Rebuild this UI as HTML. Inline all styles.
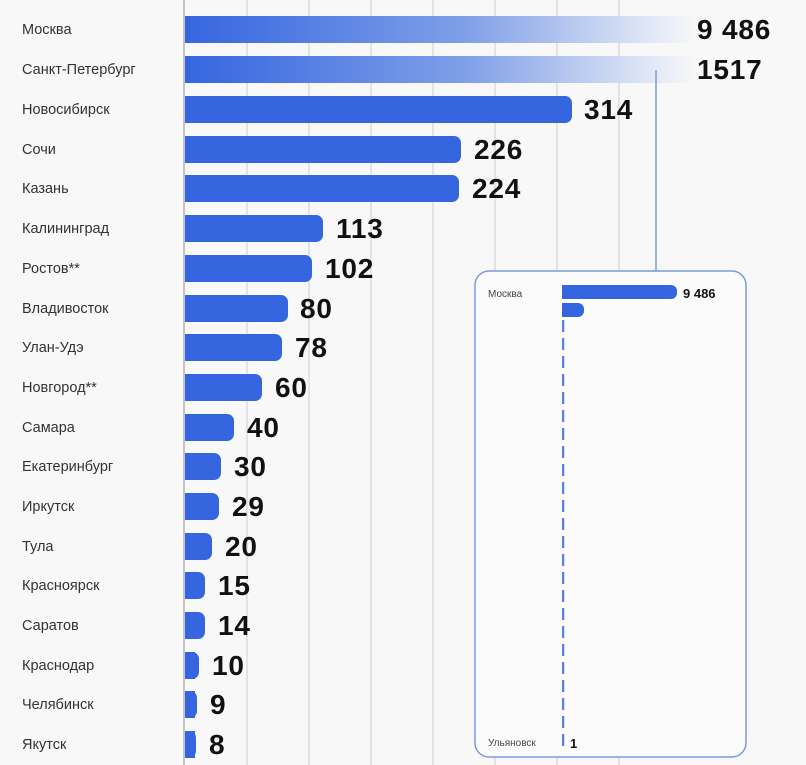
<!DOCTYPE html>
<html><head><meta charset="utf-8"><style>
html,body{margin:0;padding:0;background:#f8f8f9;}
svg{display:block;font-family:"Liberation Sans","DejaVu Sans",sans-serif;}
.l{font-size:14.5px;fill:#333;}
.v{font-size:28px;font-weight:bold;fill:#111;letter-spacing:0.8px;}
</style></head><body>
<svg width="806" height="765" viewBox="0 0 806 765">
<defs>
<linearGradient id="g" x1="0" x2="1" y1="0" y2="0">
<stop offset="0" stop-color="#3566df"/><stop offset="0.55" stop-color="#7f9fe8"/><stop offset="1" stop-color="#f8f8f9"/>
</linearGradient>
</defs>
<rect width="806" height="765" fill="#f8f8f9"/>
<g stroke="#dcdcdc" stroke-width="1.5">
<line x1="247" y1="0" x2="247" y2="765"/><line x1="309" y1="0" x2="309" y2="765"/>
<line x1="371" y1="0" x2="371" y2="765"/><line x1="433" y1="0" x2="433" y2="765"/>
<line x1="495" y1="0" x2="495" y2="765"/><line x1="557" y1="0" x2="557" y2="765"/>
<line x1="619" y1="0" x2="619" y2="765"/>
</g>
<rect x="185" y="16" width="510" height="27" fill="url(#g)"/>
<rect x="185" y="56" width="510" height="27" fill="url(#g)"/>
<line x1="656" y1="70" x2="656" y2="271" stroke="#7a9be0" stroke-width="1.5"/>
<g fill="#3566df">
<rect x="175" y="96" width="397" height="27" rx="7"/>
<rect x="175" y="136" width="286" height="27" rx="7"/>
<rect x="175" y="175" width="284" height="27" rx="7"/>
<rect x="175" y="215" width="148" height="27" rx="7"/>
<rect x="175" y="255" width="137" height="27" rx="7"/>
<rect x="175" y="295" width="113" height="27" rx="7"/>
<rect x="175" y="334" width="107" height="27" rx="7"/>
<rect x="175" y="374" width="87" height="27" rx="7"/>
<rect x="175" y="414" width="59" height="27" rx="7"/>
<rect x="175" y="453" width="46" height="27" rx="7"/>
<rect x="175" y="493" width="44" height="27" rx="7"/>
<rect x="175" y="533" width="37" height="27" rx="7"/>
<rect x="175" y="572" width="30" height="27" rx="7"/>
<rect x="175" y="612" width="30" height="27" rx="7"/>
<rect x="175" y="652" width="24" height="27" rx="7"/>
<rect x="175" y="691" width="22" height="27" rx="7"/>
<rect x="175" y="731" width="21" height="27" rx="7"/>
</g>
<rect x="170" y="90" width="14" height="675" fill="#f8f8f9"/>
<g fill="#3566df">
<rect x="185" y="96" width="10" height="27"/><rect x="185" y="136" width="10" height="27"/>
<rect x="185" y="175" width="10" height="27"/><rect x="185" y="215" width="10" height="27"/>
<rect x="185" y="255" width="10" height="27"/><rect x="185" y="295" width="10" height="27"/>
<rect x="185" y="334" width="10" height="27"/><rect x="185" y="374" width="10" height="27"/>
<rect x="185" y="414" width="10" height="27"/><rect x="185" y="453" width="10" height="27"/>
<rect x="185" y="493" width="10" height="27"/><rect x="185" y="533" width="10" height="27"/>
<rect x="185" y="572" width="10" height="27"/><rect x="185" y="612" width="10" height="27"/>
<rect x="185" y="652" width="10" height="27"/><rect x="185" y="691" width="10" height="27"/>
<rect x="185" y="731" width="10" height="27"/>
</g>
<line x1="184" y1="0" x2="184" y2="765" stroke="#c4c4c4" stroke-width="2"/>
<g class="l">
<text x="22" y="34">Москва</text><text x="22" y="74">Санкт-Петербург</text>
<text x="22" y="114">Новосибирск</text><text x="22" y="154">Сочи</text>
<text x="22" y="193">Казань</text><text x="22" y="233">Калининград</text>
<text x="22" y="273">Ростов**</text><text x="22" y="313">Владивосток</text>
<text x="22" y="352">Улан-Удэ</text><text x="22" y="392">Новгород**</text>
<text x="22" y="432">Самара</text><text x="22" y="471">Екатеринбург</text>
<text x="22" y="511">Иркутск</text><text x="22" y="551">Тула</text>
<text x="22" y="590">Красноярск</text><text x="22" y="630">Саратов</text>
<text x="22" y="670">Краснодар</text><text x="22" y="709">Челябинск</text>
<text x="22" y="749">Якутск</text>
</g>
<g class="v">
<text x="697" y="39">9 486</text><text x="697" y="79">1517</text>
<text x="584" y="119">314</text><text x="474" y="159">226</text>
<text x="472" y="198">224</text><text x="336" y="238">113</text>
<text x="325" y="278">102</text><text x="300" y="318">80</text>
<text x="295" y="357">78</text><text x="275" y="397">60</text>
<text x="247" y="437">40</text><text x="234" y="476">30</text>
<text x="232" y="516">29</text><text x="225" y="556">20</text>
<text x="218" y="595">15</text><text x="218" y="635">14</text>
<text x="212" y="675">10</text><text x="210" y="714">9</text>
<text x="209" y="754">8</text>
</g>
<rect x="475" y="271" width="271" height="486" rx="14" fill="#fbfbfc" stroke="#7a9be0" stroke-width="1.5"/>
<text x="488" y="297" font-size="10" fill="#444">Москва</text>
<text x="488" y="746" font-size="10" fill="#444">Ульяновск</text>
<rect x="556" y="285" width="121" height="14" rx="6" fill="#3566df"/>
<rect x="556" y="303" width="28" height="14" rx="6" fill="#3566df"/>
<line x1="563" y1="320" x2="563" y2="748" stroke="#5a80dc" stroke-width="2.5" stroke-dasharray="12,6"/>
<rect x="556" y="284" width="6" height="470" fill="#fbfbfc"/>
<text x="683" y="298" font-size="13" font-weight="bold" fill="#111">9 486</text>
<text x="570" y="748" font-size="13" font-weight="bold" fill="#111">1</text>
</svg>
</body></html>
